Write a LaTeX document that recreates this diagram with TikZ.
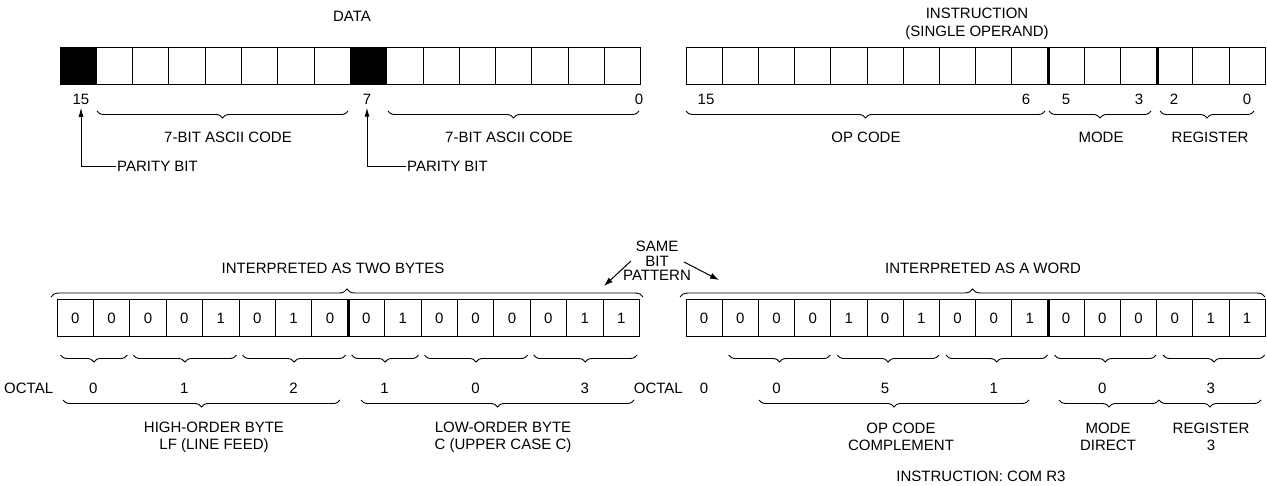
\documentclass[tikz,border=0pt]{standalone}
\usepackage{fontspec}
\setmainfont{Liberation Sans}
\usepackage{tikz}
\usetikzlibrary{arrows.meta,calc,positioning,decorations.pathreplacing}

\begin{document}
\begin{tikzpicture}[x=1pt,y=-1pt,font=\fontsize{15}{17}\selectfont,
  cell/.style={draw,line width=1pt,minimum width=#1,minimum height=37pt,inner sep=0pt},
  brc/.style={decorate,decoration={brace,amplitude=7pt,mirror},line width=0.9pt},
  upbrc/.style={decorate,decoration={brace,amplitude=8pt},line width=0.9pt},
  divider/.style={line width=3pt},
  parr/.style={line width=1pt,-{Latex[length=9pt,width=5pt]}},
  sarr/.style={line width=1pt,-{Latex[length=9pt,width=6pt]}}]
\useasboundingbox (0,0) rectangle (1267,485);

% Data word
\node (data) at (352,16) {DATA};
\foreach \i in {1,...,16} \node[cell=36.3pt] (d\i) at ({60+36.3*(\i-0.5)},66) {};
\fill (d1.north west) rectangle (d1.south east);
\fill (d9.north west) rectangle (d9.south east);
\node (dn15) at (81,99) {15}; \node (dn7) at (367,99) {7}; \node (dn0) at (639,99) {0};
\draw[brc] (97,111) -- (348,111); \draw[brc] (388,111) -- (639,111);
\node (ascA) at (228,137) {7-BIT ASCII CODE}; \node (ascB) at (509,137) {7-BIT ASCII CODE};
\node[anchor=west,inner sep=1pt] (parA) at (116,166) {PARITY BIT};
\node[anchor=west,inner sep=1pt] (parB) at (406,166) {PARITY BIT};
\draw[parr] (parA.west) -| (dn15.south);
\draw[parr] (parB.west) -| (dn7.south);

% Instruction word
\node[align=center,font=\fontsize{15}{18}\selectfont] (instr) at (977,24) {INSTRUCTION\\(SINGLE OPERAND)};
\foreach \i in {1,...,16} \node[cell=36.2pt] (s\i) at ({686+36.2*(\i-0.5)},66) {};
\draw[divider] (s10.north east) -- (s10.south east);
\draw[divider] (s13.north east) -- (s13.south east);
\node (sn15) at (706,99) {15}; \node (sn6) at (1026,99) {6}; \node (sn5) at (1066,99) {5};
\node (sn3) at (1139,99) {3}; \node (sn2) at (1174,99) {2}; \node (sn0) at (1247,99) {0};
\draw[brc] (686,111) -- (1045,111); \draw[brc] (1049,111) -- (1151,111); \draw[brc] (1160,111) -- (1254,111);
\node (opc) at (866,137) {OP CODE}; \node (mode) at (1101,137) {MODE}; \node (reg) at (1210,137) {REGISTER};

% Two bytes
\node (twob) at (333,268) {INTERPRETED AS TWO BYTES};
\foreach \v [count=\i] in {0,0,0,0,1,0,1,0,0,1,0,0,0,0,1,1}
  \node[cell=36.4pt] (b\i) at ({57+36.4*(\i-0.5)},318) {\v};
\draw[divider] (b8.north east) -- (b8.south east);
\draw[upbrc] (51,297) -- (643,297);
\node[anchor=west,inner sep=0pt] (octA) at (4,388) {OCTAL};
\foreach \a/\b/\v/\n in {1/2/0/oa,3/5/1/ob,6/8/2/oc,9/10/1/od,11/13/0/oe,14/16/3/of} {
  \draw[brc] ($(b\a.south west)+(4,18)$) -- ($(b\b.south east)+(-3,18)$);
  \node (\n) at ($(b\a.south west)!0.5!(b\b.south east)+(0,51)$) {\v};
}
\draw[brc] (63,400) -- (340,400); \draw[brc] (361,400) -- (634,400);
\node[align=center] (hib) at (214,437) {HIGH-ORDER BYTE\\LF (LINE FEED)};
\node[align=center] (lob) at (503,437) {LOW-ORDER BYTE\\C (UPPER CASE C)};

% Same bit pattern
\node[align=center,font=\fontsize{15}{14.5}\selectfont] (same) at (657,261) {SAME\\BIT\\PATTERN};
\coordinate (slA) at (631,261); \coordinate (slB) at (604,286);
\coordinate (srA) at (684,262); \coordinate (srB) at (719,280);
\draw[sarr] (slA) -- (slB); \draw[sarr] (srA) -- (srB);

% Word
\node (word) at (983,268) {INTERPRETED AS A WORD};
\foreach \v [count=\i] in {0,0,0,0,1,0,1,0,0,1,0,0,0,0,1,1}
  \node[cell=36.2pt] (w\i) at ({686+36.2*(\i-0.5)},318) {\v};
\draw[divider] (w10.north east) -- (w10.south east);
\draw[upbrc] (680,297) -- (1265,297);
\node[anchor=east,inner sep=0pt] (octB) at (683,388) {OCTAL};
\node (og) at ($(w1.south)+(0,51)$) {0};
\foreach \a/\b/\v/\n in {2/4/0/oh,5/7/5/oi,8/10/1/oj,11/13/0/ok,14/16/3/ol} {
  \draw[brc] ($(w\a.south west)+(7,18)$) -- ($(w\b.south east)+(-1,18)$);
  \node (\n) at ($(w\a.south west)!0.5!(w\b.south east)+(0,51)$) {\v};
}
\draw[brc] (759,400) -- (1029,400); \draw[brc] (1059,400) -- (1159,400); \draw[brc] (1159,400) -- (1261,400);
\node[align=center] (opcc) at (901,437) {OP CODE\\COMPLEMENT};
\node[align=center] (mdir) at (1108,437) {MODE\\DIRECT};
\node[align=center] (reg3) at (1211,437) {REGISTER\\3};
\node (com) at (981,476) {INSTRUCTION: COM R3};
\end{tikzpicture}
\end{document}
